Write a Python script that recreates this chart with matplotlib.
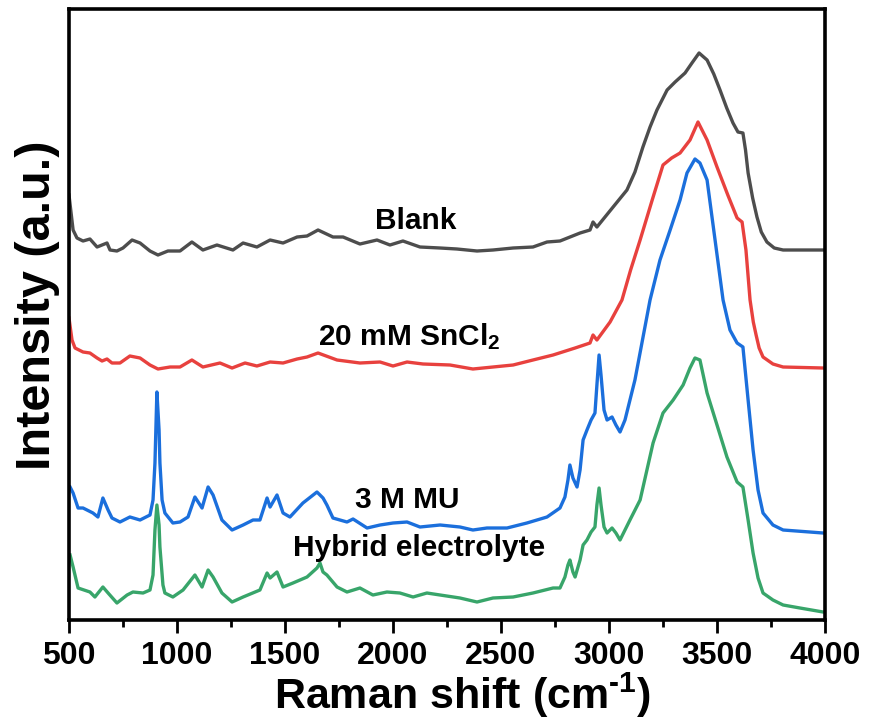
import matplotlib
matplotlib.use('Agg')
import matplotlib.pyplot as plt
from matplotlib.ticker import MultipleLocator

# Raman shift (cm-1) / intensity (a.u., stacked offsets)
blank_x = [500, 519, 537, 565, 597, 630, 676, 690, 722, 750, 792, 829, 875, 912, 958, 1014, 1069, 1120,
           1185, 1259, 1306, 1370, 1431, 1491, 1556, 1602, 1653, 1722, 1769, 1847, 1926, 1986, 2046, 2125,
           2218, 2296, 2389, 2463, 2556, 2648, 2713, 2773, 2866, 2912, 2926, 2944, 3019, 3083, 3120, 3157,
           3190, 3222, 3269, 3306, 3352, 3384, 3417, 3454, 3485, 3514, 3545, 3574, 3597, 3620, 3632, 3644,
           3665, 3685, 3705, 3731, 3765, 3806, 3991, 4000]
blank_y = [425, 390, 382, 379, 381, 373, 377, 370, 369, 372, 380, 377, 369, 365, 369, 369, 378, 370,
           375, 370, 377, 373, 380, 377, 383, 384, 390, 383, 383, 376, 380, 375, 379, 373,
           372, 371, 369, 370, 372, 373, 378, 379, 387, 390, 398, 393, 413, 430, 448, 473,
           493, 510, 530, 538, 547, 557, 567, 560, 546, 530, 512, 497, 488, 487, 470, 447,
           422, 403, 388, 378, 372, 370, 370, 370]

sncl2_x = [500, 514, 528, 565, 597, 630, 653, 676, 699, 736, 782, 829, 875, 912, 968, 1014, 1069, 1120,
           1199, 1255, 1315, 1370, 1431, 1491, 1556, 1602, 1653, 1741, 1847, 1940, 2000, 2065, 2139, 2264,
           2370, 2463, 2556, 2648, 2741, 2843, 2912, 2926, 2944, 3005, 3060, 3100, 3144, 3200, 3250, 3290,
           3329, 3375, 3412, 3454, 3500, 3550, 3593, 3616, 3634, 3653, 3668, 3681, 3695, 3713, 3759, 3806,
           3991, 4000]
sncl2_y = [302, 280, 272, 268, 267, 262, 259, 261, 257, 257, 264, 262, 255, 251, 253, 253, 260, 253,
           257, 252, 257, 254, 258, 257, 261, 263, 267, 260, 257, 258, 254, 258, 256, 255,
           251, 253, 255, 260, 265, 272, 277, 285, 280, 298, 320, 350, 380, 420, 455, 462,
           467, 480, 498, 480, 453, 425, 402, 398, 370, 320, 298, 285, 272, 263, 256, 253,
           252, 252]

mu_x = [505, 519, 542, 565, 611, 634, 657, 681, 699, 736, 782, 829, 875, 889, 898, 907, 917, 921, 931,
        944, 981, 1014, 1051, 1083, 1116, 1144, 1167, 1208, 1255, 1306, 1352, 1384, 1417, 1431, 1463,
        1491, 1523, 1583, 1648, 1676, 1694, 1722, 1787, 1815, 1880, 1940, 2000, 2065, 2125, 2218, 2310,
        2370, 2435, 2528, 2620, 2713, 2773, 2796, 2810, 2819, 2833, 2852, 2866, 2880, 2898, 2917, 2935,
        2944, 2954, 2963, 2977, 2991, 3014, 3032, 3051, 3074, 3120, 3190, 3236, 3283, 3329, 3361, 3398,
        3421, 3454, 3491, 3528, 3560, 3593, 3620, 3644, 3667, 3690, 3713, 3759, 3806, 3991, 4000]
mu_y = [133, 127, 112, 112, 107, 103, 122, 110, 102, 98, 103, 100, 105, 120, 157, 228, 190, 157, 120,
        107, 97, 98, 103, 123, 112, 133, 125, 100, 90, 95, 100, 100, 122, 113, 125,
        107, 103, 117, 128, 122, 115, 102, 98, 101, 92, 95, 97, 98, 93, 95, 93,
        90, 92, 92, 97, 103, 112, 123, 140, 155, 142, 133, 150, 180, 190, 200, 207,
        235, 265, 245, 210, 200, 203, 195, 188, 200, 240, 320, 360, 390, 420, 447, 461,
        457, 440, 380, 320, 290, 277, 273, 220, 170, 130, 107, 95, 90, 87, 87]

hyb_x = [505, 519, 542, 597, 620, 657, 681, 722, 769, 796, 843, 875, 889, 898, 907, 917, 921, 935, 944,
         981, 1028, 1083, 1116, 1144, 1167, 1208, 1255, 1306, 1384, 1417, 1431, 1463, 1491, 1537, 1602,
         1648, 1662, 1676, 1694, 1741, 1787, 1847, 1907, 1972, 2032, 2093, 2157, 2218, 2310, 2389, 2463,
         2556, 2648, 2741, 2773, 2796, 2810, 2819, 2833, 2843, 2866, 2880, 2898, 2917, 2935, 2944, 2954,
         2963, 2977, 2991, 3014, 3032, 3051, 3097, 3144, 3204, 3250, 3297, 3343, 3375, 3398, 3421, 3454,
         3500, 3546, 3593, 3620, 3644, 3667, 3690, 3713, 3759, 3806, 3884, 3991, 4000]
hyb_y = [65, 53, 32, 28, 23, 33, 27, 17, 25, 28, 27, 30, 45, 90, 115, 95, 73, 35, 27,
         23, 30, 45, 33, 50, 43, 27, 18, 23, 30, 47, 42, 48, 33, 37, 43,
         52, 57, 48, 45, 33, 28, 32, 25, 28, 27, 23, 27, 25, 22, 18, 22,
         23, 27, 32, 32, 43, 55, 60, 48, 43, 60, 75, 80, 88, 93, 115, 132,
         115, 93, 87, 92, 87, 80, 100, 120, 177, 207, 220, 235, 252, 262, 260, 227,
         195, 163, 138, 133, 100, 67, 42, 27, 20, 15, 12, 8, 8]

series_labels = ['Blank', '20 mM SnCl$_2$', '3 M MU', 'Hybrid electrolyte']
series_colors = ['#4d4d4d', '#e8413e', '#1b6fdc', '#38a56a']
label_pos = [(2106, 399), (2075, 283), (2065, 120), (2120, 72)]
xticks = [500, 1000, 1500, 2000, 2500, 3000, 3500, 4000]

plt.rcParams['font.family'] = ['Liberation Sans', 'DejaVu Sans']
plt.rcParams['font.weight'] = 'bold'
plt.rcParams['mathtext.fontset'] = 'custom'
plt.rcParams['mathtext.rm'] = 'Liberation Sans:bold'
plt.rcParams['mathtext.it'] = 'Liberation Sans:bold'
plt.rcParams['mathtext.bf'] = 'Liberation Sans:bold'

fig = plt.figure(figsize=(8.71, 7.26), dpi=100)
ax = fig.add_axes([0.0792, 0.146, 0.868, 0.8416])

xs = [blank_x, sncl2_x, mu_x, hyb_x]
ys = [blank_y, sncl2_y, mu_y, hyb_y]
for i in range(4):
    ax.plot(xs[i], ys[i], color=series_colors[i], lw=2.4, solid_joinstyle='round')
    ax.text(label_pos[i][0], label_pos[i][1], series_labels[i], fontsize=21.5, fontweight='bold',
            ha='center', va='center')

ax.set_xlim(500, 4000)
ax.set_ylim(0, 611)
ax.set_xticks(xticks)
ax.xaxis.set_minor_locator(MultipleLocator(250))
ax.set_yticks([])
ax.tick_params(axis='x', which='major', direction='out', length=9, width=2, pad=6, labelsize=23)
ax.tick_params(axis='x', which='minor', direction='out', length=5, width=2)
for s in ax.spines.values():
    s.set_linewidth(2.6)

ax.set_xlabel(r'Raman shift (cm$^{\text{-1}}$)', fontsize=31, fontweight='bold', labelpad=0)
ax.xaxis.label.set_x(0.52)
ax.set_ylabel('Intensity (a.u.)', fontsize=35, fontweight='bold')
ax.yaxis.set_label_coords(-0.012, 0.515)

plt.savefig('out.png', dpi=100)
